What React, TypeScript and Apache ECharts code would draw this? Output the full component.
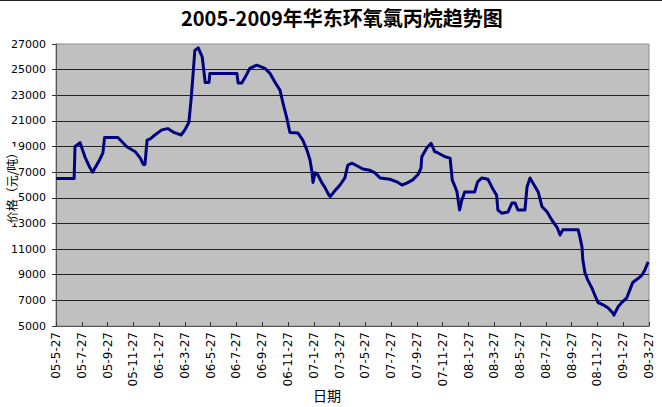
import React, { useEffect, useRef } from "react";
import * as echarts from "echarts";

const titleText = "2005-2009年华东环氧氯丙烷趋势图";
const yAxisName = "价格（元/吨）";
const xAxisName = "日期";

const dates = [
  "2005-05-27", "2005-07-09", "2005-07-11", "2005-07-23", "2005-08-04", "2005-08-15", "2005-08-22",
  "2005-09-08", "2005-09-16", "2005-09-20", "2005-10-21", "2005-11-11", "2005-12-01", "2005-12-13",
  "2005-12-20", "2005-12-24", "2005-12-29", "2006-01-06", "2006-01-17", "2006-02-03", "2006-02-17",
  "2006-03-01", "2006-03-18", "2006-03-27", "2006-04-06", "2006-04-11", "2006-04-16", "2006-04-20",
  "2006-04-28", "2006-05-07", "2006-05-14", "2006-05-23", "2006-05-25", "2006-07-28", "2006-07-31",
  "2006-08-09", "2006-08-17", "2006-08-28", "2006-09-14", "2006-10-03", "2006-10-15", "2006-10-27",
  "2006-11-08", "2006-11-15", "2006-11-25", "2006-12-01", "2006-12-20", "2007-01-01", "2007-01-11",
  "2007-01-18", "2007-01-23", "2007-01-25", "2007-01-30", "2007-02-06", "2007-02-15", "2007-02-22",
  "2007-03-02", "2007-03-05", "2007-03-17", "2007-03-28", "2007-04-09", "2007-04-16", "2007-04-26",
  "2007-05-07", "2007-05-21", "2007-06-07", "2007-06-19", "2007-07-01", "2007-07-24", "2007-08-10",
  "2007-08-22", "2007-09-03", "2007-09-17", "2007-09-29", "2007-10-06", "2007-10-08", "2007-10-20",
  "2007-10-30", "2007-11-08", "2007-11-16", "2007-12-02", "2007-12-14", "2007-12-19", "2007-12-30",
  "2008-01-06", "2008-01-11", "2008-01-18", "2008-02-11", "2008-02-18", "2008-02-28", "2008-03-12",
  "2008-03-21", "2008-04-02", "2008-04-05", "2008-04-14", "2008-04-29", "2008-05-08", "2008-05-15",
  "2008-05-22", "2008-06-08", "2008-06-13", "2008-06-20", "2008-07-02", "2008-07-09", "2008-07-18",
  "2008-07-30", "2008-08-11", "2008-08-23", "2008-08-30", "2008-09-06", "2008-10-12", "2008-10-16",
  "2008-10-21", "2008-10-23", "2008-10-28", "2008-11-04", "2008-11-14", "2008-11-21", "2008-11-28",
  "2008-12-10", "2008-12-22", "2009-01-03", "2009-01-05", "2009-01-15", "2009-01-24", "2009-02-05",
  "2009-02-12", "2009-02-19", "2009-03-01", "2009-03-10", "2009-03-17", "2009-03-25",
];

const prices = [
  16500, 16500, 19000, 19300, 18200, 17400, 17000,
  17950, 18500, 19700, 19700, 19000, 18600, 18100,
  17600, 17600, 19500, 19600, 19900, 20300, 20400,
  20100, 19900, 20300, 20900, 22600, 24700, 26500,
  26700, 26000, 24000, 24000, 24700, 24700, 23950,
  23950, 24400, 25100, 25350, 25100, 24700, 24000,
  23400, 22400, 21100, 20100, 20050, 19500, 18700,
  17950, 16950, 16200, 16950, 16800, 16200, 15850,
  15200, 15100, 15600, 16000, 16550, 17550, 17700,
  17500, 17250, 17150, 16950, 16550, 16450, 16250,
  16000, 16150, 16400, 16800, 17300, 18200, 18900,
  19250, 18600, 18500, 18200, 18100, 16400, 15500,
  14050, 14800, 15450, 15450, 16250, 16550, 16450,
  15850, 15200, 14050, 13800, 13900, 14600, 14600,
  14050, 14050, 15850, 16550, 15850, 15450, 14300,
  13900, 13250, 12700, 12100, 12500, 12500, 11950,
  11150, 10150, 9150, 8600, 7950, 7400, 6850,
  6650, 6400, 6000, 5850, 6500, 6850, 7200,
  7800, 8400, 8700, 8950, 9350, 10000,
];

// month offset from 2005-05-27
const toMonth = (d: string) => {
  const [y, m, day] = d.split("-").map(Number);
  return (y - 2005) * 12 + (m - 5) + (day - 27) / 30.4;
};

const monthLabel = (v: number) => {
  const M = 4 + Math.round(v);
  const y = 2005 + Math.floor(M / 12);
  const mo = (M % 12) + 1;
  return `${String(y % 100).padStart(2, "0")}-${mo}-27`;
};

export default function App() {
  const ref = useRef<HTMLDivElement>(null);
  useEffect(() => {
    if (!ref.current) return;
    const chart = echarts.init(ref.current, undefined, { renderer: "svg" });
    const seriesData = dates.map((d, i) => [toMonth(d), prices[i]]);
    chart.setOption({
      animation: false,
      backgroundColor: "#ffffff",
      title: {
        text: titleText,
        left: 176,
        top: 2,
        textStyle: {
          fontFamily: "Noto Sans CJK SC",
          fontSize: 20,
          fontWeight: "bold",
          color: "#000",
        },
      },
      grid: {
        left: 56,
        right: 13,
        top: 44,
        bottom: 81,
        containLabel: false,
        outerBoundsMode: "none",
        show: true,
        backgroundColor: "#c0c0c0",
        borderColor: "#8c8c8c",
        borderWidth: 1,
      },
      xAxis: {
        type: "value",
        min: 0,
        max: 46,
        interval: 2,
        axisLine: { show: true, lineStyle: { color: "#555", width: 1 } },
        axisTick: { show: true, inside: true, length: 4, lineStyle: { color: "#333" } },
        splitLine: { show: false },
        axisLabel: {
          rotate: 90,
          margin: 6,
          fontSize: 12,
          fontFamily: "DejaVu Sans",
          color: "#000",
          formatter: monthLabel,
        },
      },
      yAxis: {
        type: "value",
        min: 5000,
        max: 27000,
        interval: 2000,
        axisLine: { show: true, lineStyle: { color: "#555", width: 1 } },
        axisTick: { show: true, inside: false, length: 4, lineStyle: { color: "#333" } },
        splitLine: { show: true, showMaxLine: false, lineStyle: { color: "#222", width: 1 } },
        axisLabel: {
          margin: 10,
          fontSize: 11,
          fontFamily: "DejaVu Sans",
          color: "#000",
          formatter: (v: number) => String(v),
        },
      },
      graphic: [
        {
          type: "text",
          z: 100,
          x: 11,
          y: 185,
          rotation: Math.PI / 2,
          style: {
            text: yAxisName,
            fontFamily: "Noto Sans CJK SC",
            fontSize: 12,
            lineHeight: 12,
            fill: "#000",
            align: "center",
            verticalAlign: "middle",
            backgroundColor: "#ffffff",
          },
        },
        {
          type: "text",
          left: 313,
          top: 388,
          style: {
            text: xAxisName,
            fontFamily: "Noto Sans CJK SC",
            fontSize: 14,
            fill: "#000",
          },
        },
        {
          type: "line",
          shape: { x1: 0, y1: 0.5, x2: 662, y2: 0.5 },
          style: { stroke: "#222", lineWidth: 1 },
        },
      ],
      series: [
        {
          type: "line",
          data: seriesData,
          showSymbol: false,
          smooth: false,
          lineStyle: { color: "#000080", width: 3, join: "round" },
        },
      ],
    });
    return () => chart.dispose();
  }, []);
  return (
    <div
      ref={ref}
      style={{ position: "fixed", left: 0, top: 0, width: 662, height: 407 }}
    />
  );
}
